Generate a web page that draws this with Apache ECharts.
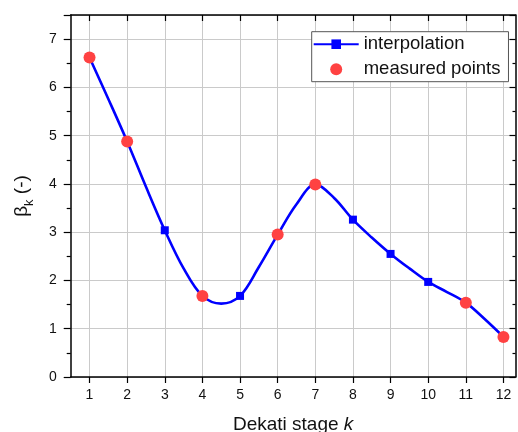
<!DOCTYPE html>
<html>
<head>
<meta charset="utf-8">
<script src="https://cdn.jsdelivr.net/npm/echarts@6/dist/echarts.min.js"></script>
<style>html,body{margin:0;padding:0;background:#fff;}#c{width:518px;height:432px;}</style>
</head>
<body>
<div id="c"></div>
<script>
// Stage numbers and tick labels
const stages = [1, 2, 3, 4, 5, 6, 7, 8, 9, 10, 11, 12];
const yTicks = [0, 1, 2, 3, 4, 5, 6, 7];
// Interpolation curve (integer stages carry square markers)
const curveX = [1, 1.5, 2, 2.5, 3, 3.5, 4, 4.5, 5, 5.5, 6, 6.5, 7, 7.5, 8, 8.5, 9, 9.5, 10, 10.5, 11, 11.5, 12];
const curveY = [6.62, 5.76, 4.88, 3.94, 3.04, 2.25, 1.68, 1.52, 1.68, 2.28, 2.95, 3.58, 3.99, 3.71, 3.26, 2.89, 2.55, 2.25, 1.97, 1.76, 1.54, 1.20, 0.83];
// Measured points
const measuredX = [1, 2, 4, 6, 7, 11, 12];
const measuredY = [6.62, 4.88, 1.68, 2.95, 3.99, 1.54, 0.83];

const FONT = 'Liberation Sans, Arial, sans-serif';
const chart = echarts.init(document.getElementById('c'));
const curveData = curveX.map((x, i) => [x, curveY[i]]);
const measuredData = measuredX.map((x, i) => [x, measuredY[i]]);

const XMIN = 0.5, XMAX = 12.32, YMIN = 0, YMAX = 7.5;

chart.setOption({
  animation: false,
  grid: { left: 70.7, right: 2.5, top: 15, bottom: 55, containLabel: false, outerBoundsMode: 'none' },
  legend: {
    orient: 'vertical', left: 311.7, top: 31.7,
    padding: [3, 8, 3, 1], itemGap: 6, itemWidth: 45, itemHeight: 12,
    backgroundColor: '#fff', borderColor: '#555', borderWidth: 1,
    textStyle: { fontFamily: FONT, fontSize: 18.5, color: '#111', lineHeight: 18 },
    data: ['interpolation', 'measured points']
  },
  xAxis: [{
    type: 'value', min: XMIN, max: XMAX, position: 'bottom',
    name: '{n|Dekati stage }{i|k}', nameLocation: 'middle', nameGap: 38,
    nameTextStyle: { rich: {
      n: { fontFamily: FONT, fontSize: 19, color: '#111' },
      i: { fontFamily: FONT, fontSize: 19, color: '#111', fontStyle: 'italic' } } },
    axisLine: { show: true, onZero: false, lineStyle: { color: '#000', width: 1.5 } },
    axisTick: { show: true, inside: false, length: 6, customValues: stages, lineStyle: { color: '#000', width: 1.2 } },
    axisLabel: { customValues: stages, margin: 11, fontFamily: FONT, fontSize: 14, color: '#111' },
    splitLine: { show: true, lineStyle: { color: '#cacaca', width: 1 } }
  }, {
    type: 'value', min: XMIN, max: XMAX, position: 'top',
    axisLine: { show: true, onZero: false, lineStyle: { color: '#000', width: 1.5 } },
    axisTick: { show: true, inside: true, length: 6, customValues: stages, lineStyle: { color: '#000', width: 1.2 } },
    axisLabel: { show: false, customValues: stages },
    splitLine: { show: false }
  }],
  yAxis: [{
    type: 'value', min: YMIN, max: YMAX, interval: 1, position: 'left',
    name: '{b|β}{s|k}{b| (-)}', nameLocation: 'middle', nameGap: 35, nameRotate: 90,
    nameTextStyle: { rich: {
      b: { fontFamily: FONT, fontSize: 19, color: '#111', lineHeight: 28, verticalAlign: 'middle' },
      s: { fontFamily: FONT, fontSize: 13, color: '#111', lineHeight: 13, verticalAlign: 'bottom' } } },
    axisLine: { show: true, onZero: false, lineStyle: { color: '#000', width: 1.5 } },
    axisTick: { show: true, inside: false, length: 7, lineStyle: { color: '#000', width: 1.2 } },
    minorTick: { show: true, splitNumber: 2, length: 4, lineStyle: { color: '#000', width: 1.2 } },
    axisLabel: { margin: 14, showMaxLabel: false, fontFamily: FONT, fontSize: 14, color: '#111',
      formatter: v => (yTicks.indexOf(v) >= 0 ? String(v) : '') },
    splitLine: { show: true, lineStyle: { color: '#cacaca', width: 1 } }
  }, {
    type: 'value', min: YMIN, max: YMAX, interval: 1, position: 'right',
    axisLine: { show: true, onZero: false, lineStyle: { color: '#000', width: 1.5 } },
    axisTick: { show: true, inside: true, length: 6, lineStyle: { color: '#000', width: 1.2 } },
    minorTick: { show: true, splitNumber: 2, length: 3, lineStyle: { color: '#000', width: 1.2 } },
    axisLabel: { show: false },
    splitLine: { show: false }
  }],
  series: [{
    name: 'interpolation', type: 'line', xAxisIndex: 0, yAxisIndex: 0,
    data: curveData, smooth: 0.35,
    symbol: 'rect',
    symbolSize: v => (Number.isInteger(v[0]) ? 8 : 0),
    showAllSymbol: true,
    lineStyle: { color: '#0000ff', width: 2.6 },
    itemStyle: { color: '#0000ff' },
    z: 2
  }, {
    name: 'measured points', type: 'scatter', xAxisIndex: 0, yAxisIndex: 0,
    data: measuredData, symbol: 'circle', symbolSize: 12,
    itemStyle: { color: '#ff4242', opacity: 1 },
    z: 3
  }]
});
</script>
</body>
</html>
